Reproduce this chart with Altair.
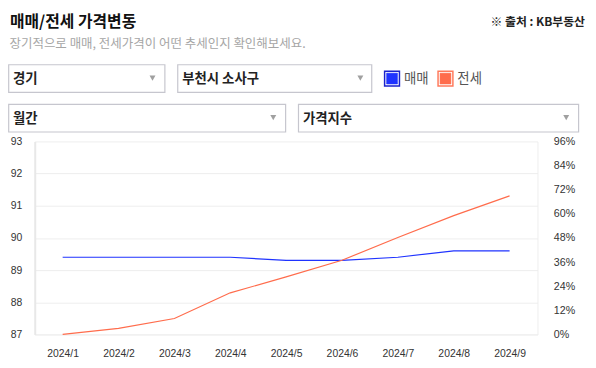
import altair as alt
import pandas as pd

# ---- data ----
months = ["2024/1", "2024/2", "2024/3", "2024/4", "2024/5", "2024/6", "2024/7", "2024/8", "2024/9"]
sale_index = [89.4, 89.4, 89.4, 89.4, 89.3, 89.3, 89.4, 89.6, 89.6]      # 매매 (left axis)
jeonse_pct = [0.0, 3.0, 7.9, 20.7, 28.6, 36.9, 48.2, 59.1, 68.9]        # 전세 (right axis, %)
left_ticks = [87, 88, 89, 90, 91, 92, 93]
right_ticks = [0, 12, 24, 36, 48, 60, 72, 84, 96]

title_text = "매매/전세 가격변동"
subtitle_text = "장기적으로 매매, 전세가격이 어떤 추세인지 확인해보세요."
source_text = "※ 출처 : KB부동산"
select_labels = ["경기", "부천시 소사구", "월간", "가격지수"]
legend_labels = ["매매", "전세"]

df = pd.DataFrame({"month": months, "sale": sale_index, "jeonse": jeonse_pct})

BLUE = "#1f33ff"
RED = "#ff6c4c"
KFONT = "Noto Sans CJK KR"
NFONT = "Liberation Sans"

# plot origin in page coords (35, 141); helpers convert page px -> plot px
OX, OY = 35, 141


def px(v):
    return v - OX


def py(v):
    return v - OY


one = pd.DataFrame({"k": [0]})

x_enc = alt.X(
    "month:O", sort=months,
    scale=alt.Scale(type="point", padding=0.5),
    axis=alt.Axis(title=None, labelAngle=0, labelFont=NFONT, labelFontSize=10.5,
                  labelColor="#333333", labelPadding=14, ticks=False,
                  domainColor="#eeeeee", grid=False),
)

sale_line = alt.Chart(df).mark_line(color=BLUE, strokeWidth=1.2).encode(
    x=x_enc,
    y=alt.Y("sale:Q", scale=alt.Scale(domain=[87, 93], nice=False, zero=False),
            axis=alt.Axis(title=None, orient="left", values=left_ticks, grid=True,
                          gridColor="#eeeeee", domainColor="#e8e8e8", domainWidth=2,
                          ticks=False, labelPadding=13, labelFont=NFONT,
                          labelFontSize=10.5, labelColor="#333333")),
)

jeonse_line = alt.Chart(df).mark_line(color=RED, strokeWidth=1.2).encode(
    x=x_enc,
    y=alt.Y("jeonse:Q", scale=alt.Scale(domain=[0, 96], nice=False),
            axis=alt.Axis(title=None, orient="right", values=right_ticks, grid=False,
                          domainColor="#eeeeee", ticks=False, labelPadding=16,
                          labelExpr="datum.value + '%'", labelFont=NFONT,
                          labelFontSize=10.8, labelColor="#333333")),
)


def text(t, x, y, size, color, weight="normal", align="left"):
    return alt.Chart(pd.DataFrame({"t": [t]})).mark_text(
        align=align, baseline="middle", font=KFONT, fontSize=size,
        fontWeight=weight, color=color,
    ).encode(x=alt.value(px(x)), y=alt.value(py(y)), text="t:N")


def box(x1, x2, y1, y2, stroke="#c6c6ce", fill="white", sw=1.2):
    return alt.Chart(one).mark_rect(fill=fill, stroke=stroke, strokeWidth=sw).encode(
        x=alt.value(px(x1)), x2=alt.value(px(x2)), y=alt.value(py(y1)), y2=alt.value(py(y2)))


def tri(x, y):
    return alt.Chart(one).mark_point(shape="triangle-down", filled=True, size=36,
                                     color="#a0a0a0", opacity=1).encode(
        x=alt.value(px(x)), y=alt.value(py(y)))


deco = [
    text(title_text, 10, 20, 16, "#111111", "bold"),
    text(subtitle_text, 9.5, 42.5, 12.6, "#a6a6a6"),
    text(source_text, 591, 20, 12, "#222222", "bold", "right"),
    # selects row 1
    box(8.7, 166.5, 63.5, 91.5), text(select_labels[0], 13, 78, 13.5, "#222222", "bold"), tri(154, 77),
    box(179.5, 375.5, 63.5, 91.5), text(select_labels[1], 184, 78, 13.5, "#222222", "bold"), tri(364, 77),
    # selects row 2
    box(8.7, 288.5, 103.5, 131.5), text(select_labels[2], 13, 118, 13.5, "#222222", "bold"), tri(276, 117),
    box(301.5, 584.5, 103.5, 131.5), text(select_labels[3], 306, 118, 13.5, "#222222", "bold"), tri(572, 117),
    # legend
    box(388.5, 403.5, 70, 85, stroke="#1a22cc", fill="white", sw=1.5),
    box(390.5, 401.5, 72, 83, stroke=BLUE, fill=BLUE, sw=0.5),
    text(legend_labels[0], 408, 78, 13.5, "#555555"),
    box(442.5, 457.5, 70, 85, stroke="#ff7a5c", fill="white", sw=1.5),
    box(444.5, 455.5, 72, 83, stroke=RED, fill=RED, sw=0.5),
    text(legend_labels[1], 462, 78, 13.5, "#555555"),
]

chart = alt.layer(sale_line, jeonse_line, *deco).resolve_scale(y="independent").properties(
    width=508, height=195,
    autosize=alt.AutoSizeParams(type="none"),
    padding={"left": 27, "top": 133, "right": 51, "bottom": 22},
    background="white",
).configure_view(stroke=None)

chart.save("out.html", embed_options={"renderer": "svg", "actions": False})
